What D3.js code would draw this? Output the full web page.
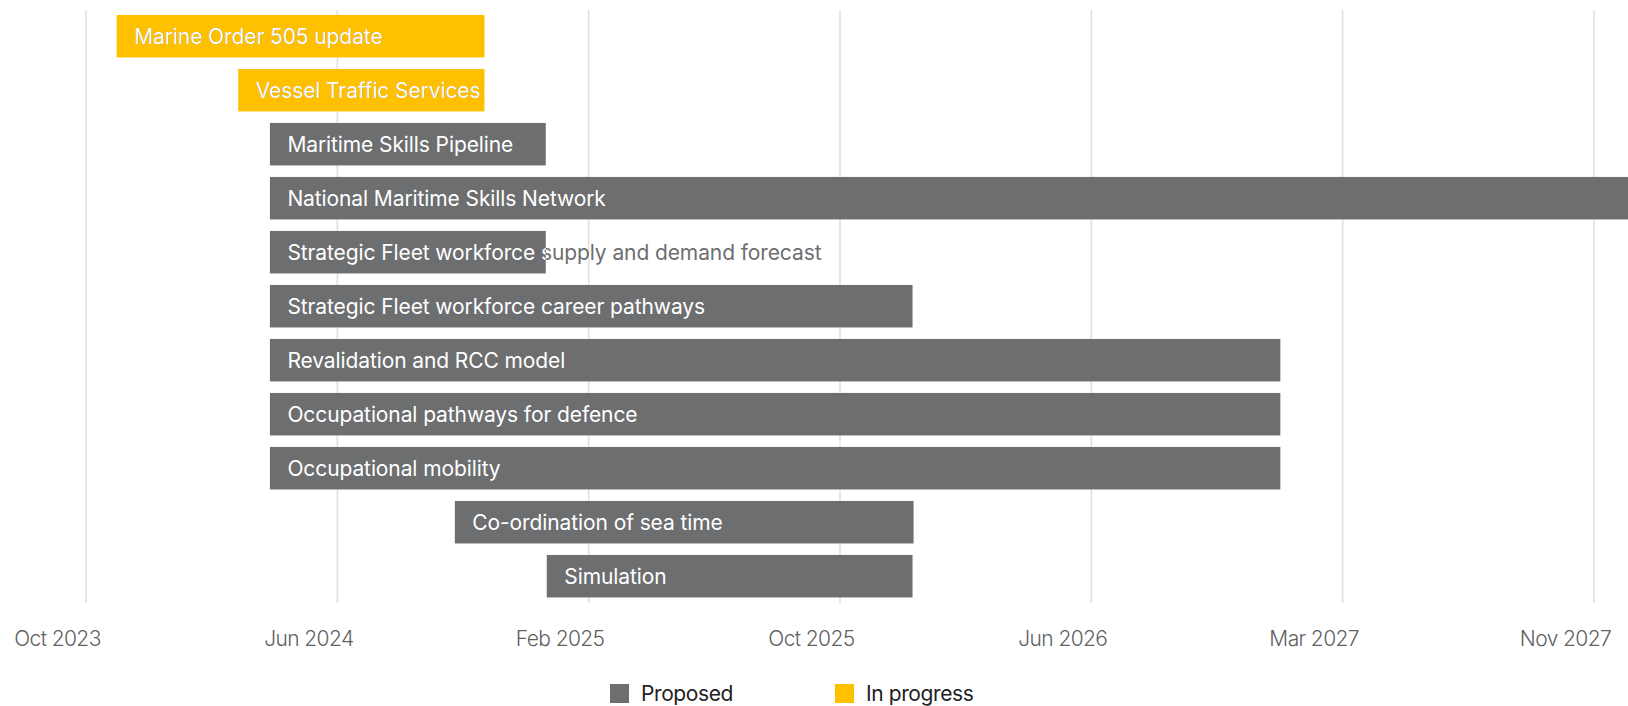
<!DOCTYPE html>
<html>
<head>
<meta charset="utf-8">
<script src="https://cdn.jsdelivr.net/npm/d3@7"></script>
<style>
  html, body { margin: 0; padding: 0; background: #ffffff; }
  svg { display: block; font-family: Inter, "Noto Sans", sans-serif; }
</style>
</head>
<body>
<svg id="chart" width="1628" height="706"></svg>
<script>
// ---------------- data ----------------
const tasks = [
  "Marine Order 505 update",
  "Vessel Traffic Services",
  "Maritime Skills Pipeline",
  "National Maritime Skills Network",
  "Strategic Fleet workforce supply and demand forecast",
  "Strategic Fleet workforce career pathways",
  "Revalidation and RCC model",
  "Occupational pathways for defence",
  "Occupational mobility",
  "Co-ordination of sea time",
  "Simulation"
];
const startDates = [
  "2023-11-19", "2024-03-17", "2024-04-17", "2024-04-17", "2024-04-17", "2024-04-17",
  "2024-04-17", "2024-04-17", "2024-04-17", "2024-10-15", "2025-01-13"
];
const endDates = [
  "2024-11-13", "2024-11-13", "2025-01-12", "2028-06-30", "2025-01-12", "2026-01-06",
  "2027-01-01", "2027-01-01", "2027-01-01", "2026-01-07", "2026-01-06"
];
const statuses = [
  "In progress", "In progress", "Proposed", "Proposed", "Proposed", "Proposed",
  "Proposed", "Proposed", "Proposed", "Proposed", "Proposed"
];
const legendLabels = ["Proposed", "In progress"];
const tickDates = ["2023-10-20", "2024-06-22", "2025-02-23", "2025-10-27", "2026-06-30", "2027-03-03", "2027-11-04"];
const tickLabels = ["Oct 2023", "Jun 2024", "Feb 2025", "Oct 2025", "Jun 2026", "Mar 2027", "Nov 2027"];

// ---------------- styles / layout ----------------
const W = 1628, H = 706;
const colors = { "Proposed": "#6d6e70", "In progress": "#ffc000" };
const parse = d3.utcParse("%Y-%m-%d");

const svg = d3.select("#chart");

const x = d3.scaleUtc()
  .domain([parse(tickDates[0]), parse(tickDates[tickDates.length - 1])])
  .range([86, 1594]);

const y = d3.scaleBand()
  .domain(tasks)
  .range([9, 603.4])
  .paddingInner(0.213)
  .paddingOuter(0.11);

const rows = tasks.map((t, i) => ({
  task: t,
  start: parse(startDates[i]),
  end: parse(endDates[i]),
  status: statuses[i]
}));

// gridlines
const grid = svg.append("g").attr("class", "grid");
grid.selectAll("line")
  .data(tickDates)
  .join("line")
  .attr("x1", d => x(parse(d)))
  .attr("x2", d => x(parse(d)))
  .attr("y1", 10)
  .attr("y2", 603)
  .attr("stroke", "#e1e1e1")
  .attr("stroke-width", 1.6);

// tick labels
const axis = svg.append("g").attr("class", "x-axis");
axis.selectAll("text")
  .data(tickDates)
  .join("text")
  .attr("x", d => x(parse(d)) - 28.5)
  .attr("y", 646)
  .attr("text-anchor", "middle")
  .attr("font-size", 21)
  .attr("font-weight", 300)
  .attr("letter-spacing", -0.6)
  .attr("fill", "#5f5f5f")
  .text((d, i) => tickLabels[i]);

// clip paths for bar labels
const defs = svg.append("defs");
defs.selectAll("clipPath")
  .data(rows)
  .join("clipPath")
  .attr("id", (d, i) => "clip" + i)
  .append("rect")
  .attr("x", d => x(d.start))
  .attr("y", d => y(d.task))
  .attr("width", d => Math.max(0, x(d.end) - x(d.start)))
  .attr("height", y.bandwidth());

// bars
const bars = svg.append("g").attr("class", "bars");
bars.selectAll("rect")
  .data(rows)
  .join("rect")
  .attr("x", d => x(d.start))
  .attr("y", d => y(d.task))
  .attr("width", d => Math.max(0, x(d.end) - x(d.start)))
  .attr("height", y.bandwidth())
  .attr("fill", d => colors[d.status]);

// labels: grey outside the bar, white inside
const labelPad = 17.5;
const labels = svg.append("g").attr("class", "labels")
  .attr("font-size", 21)
  .attr("font-weight", 400)
  .attr("letter-spacing", -0.1);
labels.selectAll("text.outer")
  .data(rows)
  .join("text")
  .attr("class", "outer")
  .attr("x", d => x(d.start) + labelPad)
  .attr("y", d => y(d.task) + y.bandwidth() / 2)
  .attr("dy", "0.36em")
  .attr("fill", "#6d6e70")
  .text(d => d.task);
labels.selectAll("text.inner")
  .data(rows)
  .join("text")
  .attr("class", "inner")
  .attr("x", d => x(d.start) + labelPad)
  .attr("y", d => y(d.task) + y.bandwidth() / 2)
  .attr("dy", "0.36em")
  .attr("fill", "#ffffff")
  .attr("clip-path", (d, i) => "url(#clip" + i + ")")
  .text(d => d.task);

// legend
const legend = svg.append("g").attr("class", "legend").attr("transform", "translate(610,684)");
const items = legend.selectAll("g")
  .data(legendLabels)
  .join("g")
  .attr("transform", (d, i) => `translate(${i * 225},0)`);
items.append("rect")
  .attr("width", 19)
  .attr("height", 19)
  .attr("fill", d => colors[d]);
items.append("text")
  .attr("x", 31)
  .attr("y", 9.5)
  .attr("dy", "0.36em")
  .attr("font-size", 21)
  .attr("font-weight", 400)
  .attr("letter-spacing", -0.4)
  .attr("fill", "#222222")
  .text(d => d);
</script>
</body>
</html>
